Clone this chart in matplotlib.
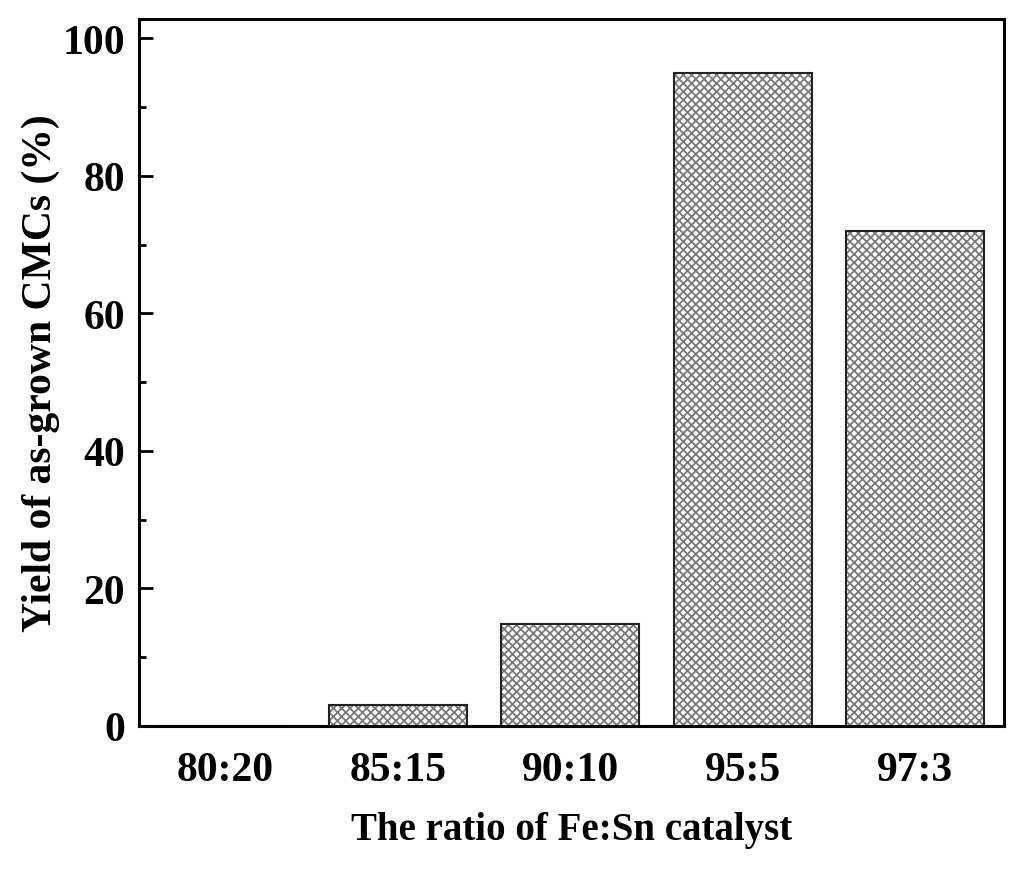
import matplotlib

matplotlib.use("Agg")
import matplotlib.pyplot as plt
from matplotlib.ticker import MultipleLocator

# yield of as-grown CMCs vs Fe:Sn ratio
ratios = ["80:20", "85:15", "90:10", "95:5", "97:3"]
yield_pct = [0, 3, 14.8, 95, 72]

plt.rcParams["font.family"] = ["Liberation Serif", "DejaVu Serif"]
plt.rcParams["font.weight"] = "bold"
plt.rcParams["hatch.linewidth"] = 1.3

fig = plt.figure(figsize=(10.24, 8.7), dpi=100)
ax = fig.add_axes([139 / 1024, 1 - 727 / 870, (1004 - 139) / 1024, (727 - 20) / 870])

x = list(range(len(ratios)))
# hatch fill first, then a plain black outline on top
ax.bar(x, yield_pct, width=0.8, color="white", edgecolor="#7a7a7a", hatch="xxxx", linewidth=0)
ax.bar(x, yield_pct, width=0.8, fill=False, edgecolor="#222222", linewidth=1.5)

ax.set_xlim(-0.5, 4.516)
ax.set_ylim(0, 102.8)
ax.set_xticks(x)
ax.set_xticklabels(ratios)
ax.yaxis.set_major_locator(MultipleLocator(20))
ax.yaxis.set_minor_locator(MultipleLocator(10))
ax.tick_params(axis="y", which="major", direction="in", length=10, width=2, labelsize=30, pad=10)
ax.tick_params(axis="y", which="minor", direction="in", length=5, width=2)
ax.tick_params(axis="x", which="major", length=0, labelsize=30, pad=18)
for s in ax.spines.values():
    s.set_linewidth(2.2)

ax.set_xlabel("The ratio of Fe:Sn catalyst", fontsize=28, fontweight="bold", labelpad=16)
ax.set_ylabel("Yield of as-grown CMCs (%)", fontsize=30, fontweight="bold", labelpad=2)

fig.savefig("out.png", dpi=100)
